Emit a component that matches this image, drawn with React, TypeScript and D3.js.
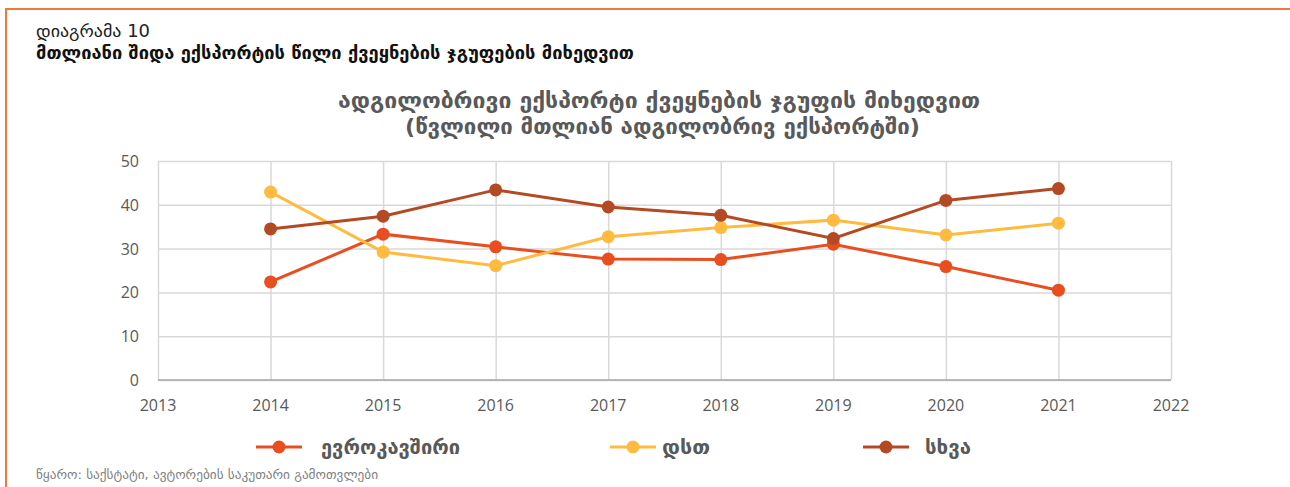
import React, { useEffect, useRef } from "react";
import * as d3 from "d3";

const years = [2014, 2015, 2016, 2017, 2018, 2019, 2020, 2021];
const euValues = [22.4, 33.3, 30.4, 27.6, 27.5, 31.0, 25.9, 20.5];
const cisValues = [42.9, 29.2, 26.1, 32.7, 34.8, 36.5, 33.1, 35.8];
const otherValues = [34.5, 37.4, 43.4, 39.5, 37.6, 32.3, 41.0, 43.7];
const seriesNames = ["ევროკავშირი", "დსთ", "სხვა"];
const seriesColors = ["#E84E1F", "#FFBB40", "#B34A24"];
const yTicks = [0, 10, 20, 30, 40, 50];
const xTicks = [2013, 2014, 2015, 2016, 2017, 2018, 2019, 2020, 2021, 2022];

const WIDTH = 1290;
const HEIGHT = 487;
const geo = "'DejaVu Sans', 'Noto Sans', sans-serif";
const num = "'Open Sans', 'Liberation Sans', sans-serif";

function App() {
  const ref = useRef<SVGSVGElement>(null);

  useEffect(() => {
    drawChart();
  }, []);

  function drawChart() {
    const svg = d3.select(ref.current);
    svg.selectAll("*").remove();

    // frame
    svg.append("line").attr("x1", 6).attr("x2", WIDTH).attr("y1", 9).attr("y2", 9)
      .attr("stroke", "#F07838").attr("stroke-width", 2);
    svg.append("line").attr("x1", 6).attr("x2", 6).attr("y1", 8).attr("y2", HEIGHT)
      .attr("stroke", "#F07838").attr("stroke-width", 2);

    svg.append("text").attr("x", 36).attr("y", 37).attr("font-family", geo)
      .attr("font-size", 17).attr("fill", "#222")
      .attr("textLength", 114).attr("lengthAdjust", "spacingAndGlyphs").text("დიაგრამა 10");
    svg.append("text").attr("x", 36).attr("y", 59).attr("font-family", geo)
      .attr("font-size", 17).attr("font-weight", "bold").attr("fill", "#111")
      .attr("textLength", 598).attr("lengthAdjust", "spacingAndGlyphs")
      .text("მთლიანი შიდა ექსპორტის წილი ქვეყნების ჯგუფების მიხედვით");

    svg.append("text").attr("x", 338).attr("y", 108)
      .attr("font-family", geo).attr("font-size", 22).attr("font-weight", "bold").attr("fill", "#595959")
      .attr("textLength", 642).attr("lengthAdjust", "spacingAndGlyphs")
      .text("ადგილობრივი ექსპორტი ქვეყნების ჯგუფის მიხედვით");
    svg.append("text").attr("x", 405).attr("y", 134)
      .attr("font-family", geo).attr("font-size", 22).attr("font-weight", "bold").attr("fill", "#595959")
      .attr("textLength", 515).attr("lengthAdjust", "spacingAndGlyphs")
      .text("(წვლილი მთლიან ადგილობრივ ექსპორტში)");

    const left = 158, right = 1171, top = 161, bottom = 380;
    const x = d3.scaleLinear().domain([2013, 2022]).range([left, right]);
    const y = d3.scaleLinear().domain([0, 50]).range([bottom, top]);

    // grid
    const g = svg.append("g");
    g.append("g")
      .attr("transform", `translate(0,${bottom})`)
      .call(d3.axisBottom(x).tickValues(xTicks).tickSize(-(bottom - top)).tickFormat(() => ""))
      .call((s) => s.select(".domain").remove())
      .call((s) => s.selectAll("line").attr("stroke", "#D9D9D9").attr("stroke-width", 1.5));
    g.append("g")
      .attr("transform", `translate(${left},0)`)
      .call(d3.axisLeft(y).tickValues(yTicks).tickSize(-(right - left)).tickFormat(() => ""))
      .call((s) => s.select(".domain").remove())
      .call((s) => s.selectAll("line").attr("stroke", "#D9D9D9").attr("stroke-width", 1.5));
    svg.append("line").attr("x1", left).attr("x2", right).attr("y1", bottom).attr("y2", bottom)
      .attr("stroke", "#A6A6A6").attr("stroke-width", 1.5);

    // tick labels
    svg.append("g").selectAll("text").data(yTicks).join("text")
      .attr("x", 139).attr("y", (d) => y(d) + 6).attr("text-anchor", "end")
      .attr("font-family", num).attr("font-size", 16).attr("fill", "#595959").text((d) => d);
    svg.append("g").selectAll("text").data(xTicks).join("text")
      .attr("x", (d) => x(d)).attr("y", 411).attr("text-anchor", "middle")
      .attr("font-family", num).attr("font-size", 16).attr("fill", "#595959").text((d) => d);

    const allSeries = [euValues, cisValues, otherValues];
    const line = d3.line<number>().x((d, i) => x(years[i])).y((d) => y(d));

    allSeries.forEach((vals, k) => {
      svg.append("path").datum(vals).attr("fill", "none")
        .attr("stroke", seriesColors[k]).attr("stroke-width", 3).attr("d", line);
    });
    allSeries.forEach((vals, k) => {
      svg.append("g").selectAll("circle").data(vals).join("circle")
        .attr("cx", (d, i) => x(years[i])).attr("cy", (d) => y(d)).attr("r", 6.5)
        .attr("fill", seriesColors[k]);
    });

    // legend
    const legendX = [256, 610, 863];
    const legendTextLen = [139, 48, 46];
    const leg = svg.append("g").selectAll("g").data(seriesNames).join("g")
      .attr("transform", (d, i) => `translate(${legendX[i]},447)`);
    leg.append("line").attr("x1", 0).attr("x2", 46).attr("y1", 0).attr("y2", 0)
      .attr("stroke", (d, i) => seriesColors[i]).attr("stroke-width", 3);
    leg.append("circle").attr("cx", 23).attr("cy", 0).attr("r", 6.5)
      .attr("fill", (d, i) => seriesColors[i]);
    leg.append("text").attr("x", (d, i) => (i === 0 ? 65 : i === 1 ? 52 : 62)).attr("y", 7)
      .attr("font-family", geo).attr("font-size", 20).attr("font-weight", "bold")
      .attr("textLength", (d, i) => legendTextLen[i]).attr("lengthAdjust", "spacingAndGlyphs")
      .attr("fill", "#595959").text((d) => d);

    svg.append("text").attr("x", 36).attr("y", 479).attr("font-family", geo)
      .attr("font-size", 13).attr("fill", "#7F7F7F")
      .attr("textLength", 342).attr("lengthAdjust", "spacingAndGlyphs")
      .text("წყარო: საქსტატი, ავტორების საკუთარი გამოთვლები");
  }

  return (
    <svg ref={ref} width={WIDTH} height={HEIGHT}
      style={{ position: "absolute", left: 0, top: 0, background: "#fff" }} />
  );
}

export default App;
